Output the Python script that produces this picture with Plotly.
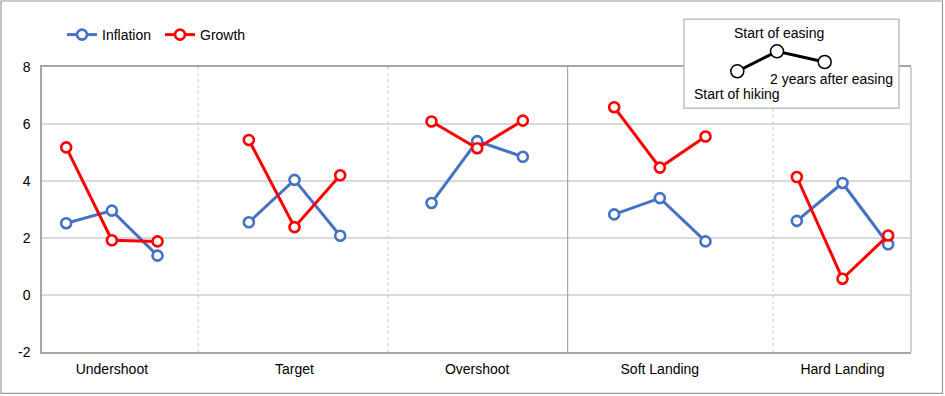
import plotly.graph_objects as go

W, H = 945, 396

# ---- data ----
scenarios = ["Undershoot", "Target", "Overshoot", "Soft Landing", "Hard Landing"]
phases = ["Start of hiking", "Start of easing", "2 years after easing"]
inflation = [
    [2.52, 2.96, 1.38],
    [2.55, 4.04, 2.08],
    [3.23, 5.40, 4.85],
    [2.83, 3.40, 1.88],
    [2.60, 3.93, 1.78],
]
growth = [
    [5.18, 1.92, 1.88],
    [5.44, 2.38, 4.20],
    [6.09, 5.15, 6.12],
    [6.59, 4.47, 5.56],
    [4.14, 0.57, 2.09],
]
y_ticks = [-2, 0, 2, 4, 6, 8]
y_ticktext = [str(v) for v in y_ticks]

BLUE = "#4472C4"
RED = "#FF0000"
FONT = "Liberation Sans, Arial, sans-serif"

SLOT = len(phases) + 1  # 3 points + 1 gap per scenario


def flatten(series):
    xs, ys = [], []
    for i, grp in enumerate(series):
        for j, v in enumerate(grp):
            xs.append(SLOT * i + j)
            ys.append(v)
        xs.append(None)
        ys.append(None)
    return xs, ys


fig = go.Figure()
for name, series, color in [("Inflation", inflation, BLUE), ("Growth", growth, RED)]:
    xs, ys = flatten(series)
    fig.add_trace(go.Scatter(
        x=xs, y=ys, name=name, mode="lines+markers",
        line=dict(color=color, width=3),
        marker=dict(symbol="circle", size=10, color="white",
                    line=dict(color=color, width=2.6)),
        connectgaps=False,
    ))

# px -> paper helpers (margins are zero, so paper == whole figure)
def px(x):
    return x / W


def py(y):
    return 1 - y / H


L, R, T, B = 42, 911, 67, 352

fig.update_layout(
    template="none",
    width=W, height=H, autosize=False,
    margin=dict(l=0, r=0, t=0, b=0, pad=0, autoexpand=False),
    paper_bgcolor="white", plot_bgcolor="white",
    font=dict(family=FONT, size=14, color="black"),
    showlegend=True,
    legend=dict(orientation="h", x=px(62), y=py(35), xanchor="left", yanchor="middle",
                bgcolor="rgba(0,0,0,0)", itemwidth=30, entrywidth=53,
                font=dict(family=FONT, size=14, color="black")),
    xaxis=dict(domain=[px(L), px(R)], range=[-0.53, 18.5], automargin=False,
               tickvals=[SLOT * i + 1 for i in range(len(scenarios))],
               ticktext=scenarios, showgrid=False, zeroline=False,
               showline=True, linecolor="#a6a6a6", linewidth=1.5, mirror=True,
               ticks="", ticklabelstandoff=3,
               tickfont=dict(family=FONT, size=14, color="black")),
    yaxis=dict(domain=[py(B), py(T)], range=[-2, 8], tickvals=y_ticks,
               ticktext=y_ticktext, automargin=False,
               showgrid=True, gridcolor="#d9d9d9", gridwidth=1.5, zeroline=False,
               showline=True, linecolor="#a6a6a6", linewidth=1.5,
               ticks="", ticklabelstandoff=7,
               tickfont=dict(family=FONT, size=14, color="black")),
)

shapes = []
# right border of plot area
shapes.append(dict(type="line", xref="paper", yref="paper", x0=px(R), x1=px(R),
                   y0=py(B), y1=py(T), line=dict(color="#d0d0d0", width=2), layer="above"))
# group separators
sep_x = [2.89, 7.05, 10.98, 15.48]
for k, sx in enumerate(sep_x):
    solid = (k == 2)
    shapes.append(dict(type="line", xref="x", yref="paper", x0=sx, x1=sx,
                       y0=py(B), y1=py(T),
                       line=dict(color="#a6a6a6" if solid else "#c8c8c8",
                                 width=1.2 if solid else 1,
                                 dash="solid" if solid else "dot"),
                       layer="above"))
# outer border
shapes.append(dict(type="rect", xref="paper", yref="paper", x0=px(1), x1=px(942.5),
                   y0=py(393.3), y1=py(1), line=dict(color="#9a9a9a", width=1.2),
                   fillcolor="rgba(0,0,0,0)", layer="above"))

# key box (explains the three points of each group)
shapes.append(dict(type="rect", xref="paper", yref="paper", x0=px(684), x1=px(899),
                   y0=py(108.3), y1=py(19.3), line=dict(color="#bfbfbf", width=1.5),
                   fillcolor="white", layer="above"))
key_px = [(737.3, 71.3), (777.0, 51.3), (824.7, 62.0)]
path = "M " + " L ".join(f"{px(a):.5f},{py(b):.5f}" for a, b in key_px)
shapes.append(dict(type="path", xref="paper", yref="paper", path=path,
                   line=dict(color="black", width=3), layer="above"))
for a, b in key_px:
    shapes.append(dict(type="circle", xref="paper", yref="paper",
                       xsizemode="pixel", ysizemode="pixel",
                       xanchor=px(a), yanchor=py(b), x0=-6.5, x1=6.5, y0=-6.5, y1=6.5,
                       fillcolor="white", line=dict(color="black", width=1.5),
                       layer="above"))
fig.update_layout(shapes=shapes)

label_pos = [(736.7, 94.0), (779.0, 32.7), (831.7, 79.3)]
for text, (a, b) in zip(phases, label_pos):
    fig.add_annotation(text=text, xref="paper", yref="paper", x=px(a), y=py(b),
                       xanchor="center", yanchor="middle", showarrow=False,
                       font=dict(family=FONT, size=14, color="black"))

post = (
    "document.documentElement.style.margin='0';"
    "document.body.style.margin='0';"
    "document.body.style.overflow='hidden';"
    "var gd=document.getElementById('{plot_id}');"
    "gd.style.position='fixed';gd.style.top='0px';gd.style.left='0px';"
)

fig.write_html("out.html", config={"displayModeBar": False}, post_script=post)
